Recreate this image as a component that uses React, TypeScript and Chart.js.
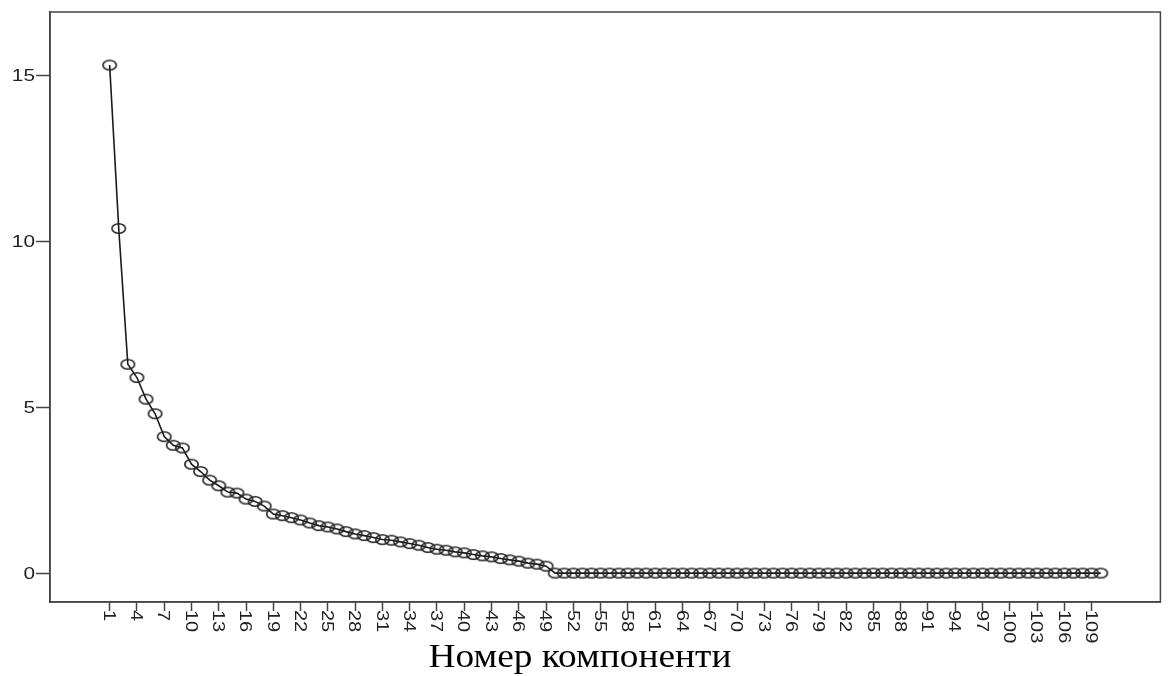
import React, { useEffect, useRef } from "react";
import { Chart, registerables } from "chart.js";

Chart.register(...registerables);

// Eigenvalues per component (scree plot)
const eigenvalues: number[] = [
  15.3, 10.38, 6.29, 5.89, 5.24, 4.8, 4.11, 3.85, 3.77, 3.28,
  3.06, 2.8, 2.63, 2.44, 2.41, 2.23, 2.16, 2.02, 1.78, 1.73,
  1.67, 1.6, 1.51, 1.43, 1.39, 1.33, 1.25, 1.18, 1.13, 1.07,
  1.01, 0.99, 0.94, 0.89, 0.84, 0.77, 0.72, 0.69, 0.64, 0.61,
  0.56, 0.52, 0.49, 0.44, 0.4, 0.36, 0.3, 0.27, 0.21, 0,
  0, 0, 0, 0, 0, 0, 0, 0, 0, 0,
  0, 0, 0, 0, 0, 0, 0, 0, 0, 0,
  0, 0, 0, 0, 0, 0, 0, 0, 0, 0,
  0, 0, 0, 0, 0, 0, 0, 0, 0, 0,
  0, 0, 0, 0, 0, 0, 0, 0, 0, 0,
  0, 0, 0, 0, 0, 0, 0, 0, 0, 0,
];

const components: number[] = eigenvalues.map((_, i) => i + 1);

const xTickLabels: number[] = [
  1, 4, 7, 10, 13, 16, 19, 22, 25, 28, 31, 34, 37, 40, 43, 46, 49, 52, 55,
  58, 61, 64, 67, 70, 73, 76, 79, 82, 85, 88, 91, 94, 97, 100, 103, 106, 109,
];
const yTickLabels: number[] = [0, 5, 10, 15];
const xAxisTitle = "Номер компоненти";

const LABEL_FONT = '16px "Liberation Sans", Arial, sans-serif';
const AXIS_COLOR = "#444";

function makeEllipse(): HTMLCanvasElement {
  const c = document.createElement("canvas");
  c.width = 17;
  c.height = 13;
  const ctx = c.getContext("2d")!;
  ctx.strokeStyle = "#222";
  ctx.lineWidth = 1.6;
  ctx.beginPath();
  ctx.ellipse(8.5, 6.5, 6.7, 4.7, 0, 0, Math.PI * 2);
  ctx.stroke();
  return c;
}

const labelsPlugin = {
  id: "customLabels",
  afterDraw(chart: any) {
    const { ctx, chartArea, scales } = chart;
    const xs = scales.x;
    const ys = scales.y;
    ctx.save();
    // frame
    ctx.strokeStyle = AXIS_COLOR;
    ctx.lineWidth = 1.5;
    ctx.strokeRect(
      chartArea.left,
      chartArea.top,
      chartArea.right - chartArea.left,
      chartArea.bottom - chartArea.top
    );
    ctx.fillStyle = "#222";
    ctx.font = LABEL_FONT;
    // y labels
    ctx.textAlign = "right";
    ctx.textBaseline = "alphabetic";
    for (const v of yTickLabels) {
      const y = ys.getPixelForValue(v);
      ctx.save();
      ctx.translate(35, y + 6);
      ctx.scale(1.3, 1);
      ctx.fillText(String(v), 0, 0);
      ctx.restore();
    }
    // x labels rotated clockwise
    ctx.textAlign = "left";
    for (const v of xTickLabels) {
      const x = xs.getPixelForValue(v);
      ctx.save();
      ctx.translate(x, chartArea.bottom + 8);
      ctx.rotate(Math.PI / 2);
      ctx.scale(1.25, 1);
      ctx.fillText(String(v), 0, 5.8);
      ctx.restore();
    }
    // axis title
    ctx.font = '34px "Liberation Serif", "Times New Roman", serif';
    ctx.fillStyle = "#000";
    ctx.textAlign = "center";
    ctx.translate(580, 667);
    ctx.scale(1.1, 1);
    ctx.fillText(xAxisTitle, 0, 0);
    ctx.restore();
  },
};

export default function App() {
  const ref = useRef<HTMLCanvasElement>(null);
  useEffect(() => {
    document.body.style.margin = "0";
    const point = makeEllipse();
    const chart = new Chart(ref.current!, {
      type: "line",
      data: {
        datasets: [
          {
            data: components.map((c, i) => ({ x: c, y: eigenvalues[i] })),
            borderColor: "#1a1a1a",
            borderWidth: 1.6,
            pointStyle: point as any,
            pointRadius: 6,
            backgroundColor: "transparent",
            tension: 0,
          },
        ],
      },
      options: {
        animation: false,
        responsive: false,
        maintainAspectRatio: false,
        layout: { padding: { top: 12, right: 2, left: 0, bottom: 0 } },
        plugins: {
          legend: { display: false },
          tooltip: { enabled: false },
          title: { display: false },
        },
        scales: {
          x: {
            type: "linear",
            min: -5.56,
            max: 116.56,
            afterBuildTicks: (scale: any) => {
              scale.ticks = xTickLabels.map((v) => ({ value: v }));
            },
            afterFit: (scale: any) => {
              scale.height = 74;
            },
            ticks: { display: false },
            grid: {
              display: true,
              drawOnChartArea: false,
              drawTicks: true,
              tickLength: 9,
              tickColor: AXIS_COLOR,
              tickWidth: 1.5,
            },
            border: { display: true, color: AXIS_COLOR, width: 1.5 },
          },
          y: {
            type: "linear",
            min: -0.87,
            max: 16.9,
            afterBuildTicks: (scale: any) => {
              scale.ticks = yTickLabels.map((v) => ({ value: v }));
            },
            afterFit: (scale: any) => {
              scale.width = 50;
            },
            ticks: { display: false },
            grid: {
              display: true,
              drawOnChartArea: false,
              drawTicks: true,
              tickLength: 14,
              tickColor: AXIS_COLOR,
              tickWidth: 1.5,
            },
            border: { display: true, color: AXIS_COLOR, width: 1.5 },
          },
        },
      },
      plugins: [labelsPlugin],
    });
    return () => chart.destroy();
  }, []);
  return (
    <div style={{ position: "fixed", left: 0, top: 0, width: 1168, height: 676, background: "#fff" }}>
      <canvas ref={ref} width={1168} height={676} />
    </div>
  );
}
